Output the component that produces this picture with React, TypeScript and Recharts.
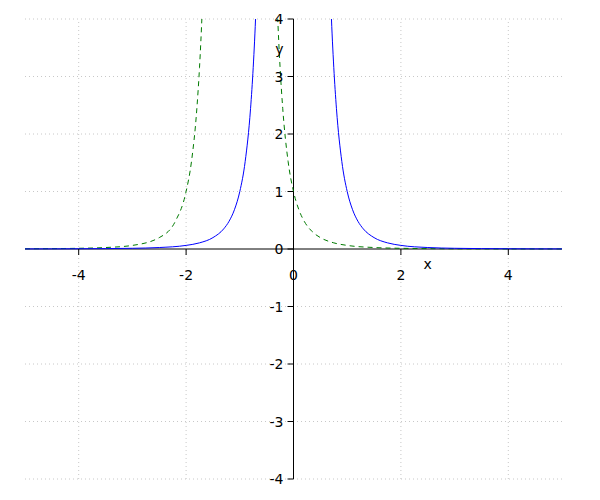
import React from "react";
import { Line, LineChart, ReferenceDot, ReferenceLine, XAxis, YAxis } from "recharts";

// 1/x^4 (solid blue), split at the pole
const blueLeftX = [-5, -4.5, -4, -3.5, -3, -2.5, -2, -1.75, -1.5, -1.3, -1.2, -1.1, -1, -0.9, -0.8, -0.75, -0.7, -0.65];
const blueLeftY = [0.0016, 0.0024, 0.0039, 0.0067, 0.0123, 0.0256, 0.0625, 0.107, 0.198, 0.35, 0.482, 0.683, 1, 1.52, 2.44, 3.16, 4.16, 5.6];
const blueRightX = [0.65, 0.7, 0.75, 0.8, 0.9, 1, 1.1, 1.2, 1.3, 1.5, 1.75, 2, 2.5, 3, 3.5, 4, 4.5, 5];
const blueRightY = [5.6, 4.16, 3.16, 2.44, 1.52, 1, 0.683, 0.482, 0.35, 0.198, 0.107, 0.0625, 0.0256, 0.0123, 0.0067, 0.0039, 0.0024, 0.0016];

// dashed green curve, pole near x = -1
const greenLeftX = [-5, -4.5, -4, -3.5, -3, -2.5, -2.2, -2, -1.9, -1.8, -1.75, -1.7, -1.65];
const greenLeftY = [0.0039, 0.0067, 0.0123, 0.0256, 0.0625, 0.198, 0.482, 1, 1.52, 2.44, 3.16, 4.16, 5.6];
const greenRightX = [-0.35, -0.3, -0.25, -0.2, -0.1, 0, 0.1, 0.2, 0.35, 0.5, 0.75, 1, 1.5, 2, 2.5, 3, 4, 5];
const greenRightY = [5.6, 4.16, 3.16, 2.44, 1.52, 1, 0.683, 0.482, 0.301, 0.198, 0.107, 0.0625, 0.0256, 0.0123, 0.0067, 0.0039, 0.0016, 0.0008];

const xTicks = [-4, -2, 0, 2, 4];
const yTicks = [-4, -3, -2, -1, 0, 1, 2, 3, 4];
const gridX = [-4, -2, 2, 4];
const gridY = [-4, -3, -2, -1, 1, 2, 3, 4];

const font = "DejaVu Sans";

const pts = (xs: number[], ys: number[]) => xs.map((x, i) => ({ x, y: ys[i] }));

function XTick({ cx, cy, value }: any) {
  return (
    <g>
      <line x1={cx} y1={cy} x2={cx} y2={cy + 6} stroke="#000" />
      <text x={cx} y={cy + 31} textAnchor="middle" fontSize={14} fontFamily={font} fill="#000">
        {value}
      </text>
    </g>
  );
}

function YTick({ cx, cy, value }: any) {
  return (
    <g>
      <line x1={cx - 6} y1={cy} x2={cx} y2={cy} stroke="#000" />
      <text x={cx - 10} y={cy + 5} textAnchor="end" fontSize={14} fontFamily={font} fill="#000">
        {value}
      </text>
    </g>
  );
}

export default function App() {
  return (
    <div style={{ position: "absolute", left: 0, top: 0, background: "#fff" }}>
      <LineChart width={600} height={500} margin={{ top: 19, right: 38, bottom: 21, left: 25 }}>
        <XAxis type="number" dataKey="x" domain={[-5, 5]} allowDataOverflow hide />
        <YAxis type="number" dataKey="y" domain={[-4, 4]} allowDataOverflow hide />
        {gridX.map((g) => (
          <ReferenceLine key={"gx" + g} x={g} stroke="#c8c8c8" strokeDasharray="1 3" />
        ))}
        {gridY.map((g) => (
          <ReferenceLine key={"gy" + g} y={g} stroke="#c8c8c8" strokeDasharray="1 3" />
        ))}
        <ReferenceLine y={0} stroke="#000" />
        <ReferenceLine x={0} stroke="#000" />
        <Line data={pts(greenLeftX, greenLeftY)} dataKey="y" type="monotone" stroke="#007a00" strokeDasharray="5 4" dot={false} isAnimationActive={false} />
        <Line data={pts(greenRightX, greenRightY)} dataKey="y" type="monotone" stroke="#007a00" strokeDasharray="5 4" dot={false} isAnimationActive={false} />
        <Line data={pts(blueLeftX, blueLeftY)} dataKey="y" type="monotone" stroke="#0000ff" dot={false} isAnimationActive={false} />
        <Line data={pts(blueRightX, blueRightY)} dataKey="y" type="monotone" stroke="#0000ff" dot={false} isAnimationActive={false} />
        {xTicks.map((t) => (
          <ReferenceDot key={"x" + t} x={t} y={0} r={0} shape={(p: any) => <XTick {...p} value={t} />} />
        ))}
        {yTicks.map((t) => (
          <ReferenceDot key={"y" + t} x={0} y={t} r={0} shape={(p: any) => <YTick {...p} value={t} />} />
        ))}
        <ReferenceDot
          x={2.5}
          y={0}
          r={0}
          shape={(p: any) => (
            <text x={p.cx} y={p.cy + 20} textAnchor="middle" fontSize={14} fontFamily={font}>
              x
            </text>
          )}
        />
        <ReferenceDot
          x={0}
          y={3.5}
          r={0}
          shape={(p: any) => (
            <text x={p.cx - 14} y={p.cy + 6} textAnchor="middle" fontSize={14} fontFamily={font}>
              y
            </text>
          )}
        />
      </LineChart>
    </div>
  );
}
